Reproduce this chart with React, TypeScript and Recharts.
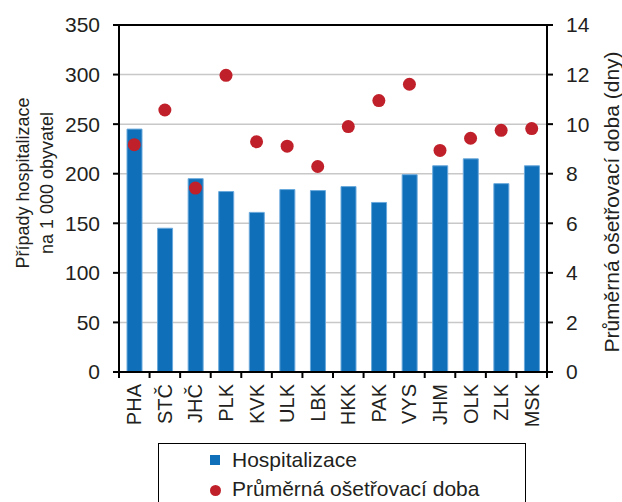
import React from 'react';
import {
  ComposedChart,
  Bar,
  Line,
  XAxis,
  YAxis,
  CartesianGrid,
  ReferenceLine,
  Legend,
} from 'recharts';

const regions = ['PHA', 'STČ', 'JHČ', 'PLK', 'KVK', 'ULK', 'LBK', 'HKK', 'PAK', 'VYS', 'JHM', 'OLK', 'ZLK', 'MSK'];
const hospitalizace = [245, 145, 195, 182, 161, 184, 183, 187, 171, 199, 208, 215, 190, 208];
const osetrovaciDoba = [9.17, 10.57, 7.42, 11.97, 9.29, 9.11, 8.29, 9.9, 10.95, 11.61, 8.94, 9.43, 9.75, 9.82];
const leftTicks = [0, 50, 100, 150, 200, 250, 300, 350];
const rightTicks = [0, 2, 4, 6, 8, 10, 12, 14];

const data = regions.map((kraj, i) => ({
  kraj,
  hosp: hospitalizace[i],
  doba: osetrovaciDoba[i],
}));

const FONT = '"Liberation Sans", Arial, sans-serif';
const TEXT = '#231f20';
const BLUE = '#0f6fb8';
const RED = '#c0202a';

const XTick = (props: any) => {
  const { x, y, payload, index, visibleTicksCount } = props;
  const half = payload?.offset ?? 15.3;
  const isLast = index === visibleTicksCount - 1;
  return (
    <g>
      <line x1={x - half} x2={x - half} y1={y - 6} y2={y} stroke="#000" strokeWidth={2} />
      {isLast && <line x1={x + half} x2={x + half} y1={y - 6} y2={y} stroke="#000" strokeWidth={2} />}
      <text
        x={x}
        y={y + 6}
        transform={`rotate(-90, ${x}, ${y + 6})`}
        textAnchor="end"
        dominantBaseline="central"
        fontSize={20}
        fontFamily={FONT}
        fill={TEXT}
      >
        {payload.value}
      </text>
    </g>
  );
};

const LeftLabel = () => (
  <g fontFamily={FONT} fontSize={18} fill={TEXT}>
    <text x={23} y={183} transform="rotate(-90, 23, 183)" textAnchor="middle" dominantBaseline="central">
      Případy hospitalizace
    </text>
    <text x={47} y={183} transform="rotate(-90, 47, 183)" textAnchor="middle" dominantBaseline="central">
      na 1 000 obyvatel
    </text>
  </g>
);

const RightLabel = () => (
  <text
    x={611}
    y={202}
    transform="rotate(-90, 611, 202)"
    textAnchor="middle"
    dominantBaseline="central"
    fontFamily={FONT}
    fontSize={21}
    fill={TEXT}
  >
    Průměrná ošetřovací doba (dny)
  </text>
);

const renderLegend = () => (
  <div
    style={{
      position: 'relative',
      width: 368,
      height: 62,
      border: '1px solid #000',
      boxSizing: 'border-box',
      fontFamily: FONT,
      fontSize: 21,
      color: TEXT,
      background: '#fff',
    }}
  >
    <div style={{ position: 'absolute', left: 51, top: 11, width: 10, height: 10, background: BLUE }} />
    <div style={{ position: 'absolute', left: 73, top: 4, lineHeight: '23px', whiteSpace: 'nowrap' }}>Hospitalizace</div>
    <div style={{ position: 'absolute', left: 51, top: 41, width: 11, height: 11, borderRadius: '50%', background: RED }} />
    <div style={{ position: 'absolute', left: 73, top: 33, lineHeight: '23px', whiteSpace: 'nowrap' }}>
      Průměrná ošetřovací doba
    </div>
  </div>
);

export default function App() {
  return (
    <div style={{ position: 'absolute', left: 0, top: 0, width: 622, height: 502, overflow: 'hidden', background: '#fff' }}>
      <ComposedChart width={622} height={502} data={data} margin={{ top: 25, right: 0, bottom: 0, left: 0 }}>
        <CartesianGrid yAxisId="left" vertical={false} stroke="#c8c8c8" strokeWidth={1.5} />
        <XAxis
          dataKey="kraj"
          height={130}
          interval={0}
          tickLine={false}
          tickSize={6}
          tickMargin={0}
          axisLine={{ stroke: '#000', strokeWidth: 2 }}
          tick={<XTick />}
        />
        <YAxis
          yAxisId="left"
          width={119}
          domain={[0, 350]}
          ticks={leftTicks}
          interval={0}
          tickSize={6}
          tickMargin={13}
          axisLine={{ stroke: '#000', strokeWidth: 2 }}
          tickLine={{ stroke: '#000', strokeWidth: 2 }}
          tick={{ fontSize: 21, fontFamily: FONT, fill: TEXT }}
          label={{ content: () => <LeftLabel /> }}
        />
        <YAxis
          yAxisId="right"
          orientation="right"
          width={75}
          domain={[0, 14]}
          ticks={rightTicks}
          interval={0}
          tickSize={6}
          tickMargin={13}
          axisLine={{ stroke: '#000', strokeWidth: 2 }}
          tickLine={{ stroke: '#000', strokeWidth: 2 }}
          tick={{ fontSize: 21, fontFamily: FONT, fill: TEXT }}
          label={{ content: () => <RightLabel /> }}
        />
        <ReferenceLine yAxisId="left" y={350} stroke="#000" strokeWidth={2} />
        <Bar
          yAxisId="left"
          dataKey="hosp"
          name="Hospitalizace"
          fill={BLUE}
          stroke="#6aa9dc"
          strokeWidth={1}
          barSize={15}
          isAnimationActive={false}
        />
        <Line
          yAxisId="right"
          dataKey="doba"
          name="Průměrná ošetřovací doba"
          stroke="none"
          strokeWidth={0}
          dot={{ r: 6.5, fill: RED, stroke: 'none' }}
          activeDot={false}
          isAnimationActive={false}
        />
        <Legend
          layout="vertical"
          align="center"
          verticalAlign="middle"
          wrapperStyle={{ left: 158, top: 443, width: 368, height: 62 }}
          content={renderLegend}
        />
      </ComposedChart>
    </div>
  );
}
